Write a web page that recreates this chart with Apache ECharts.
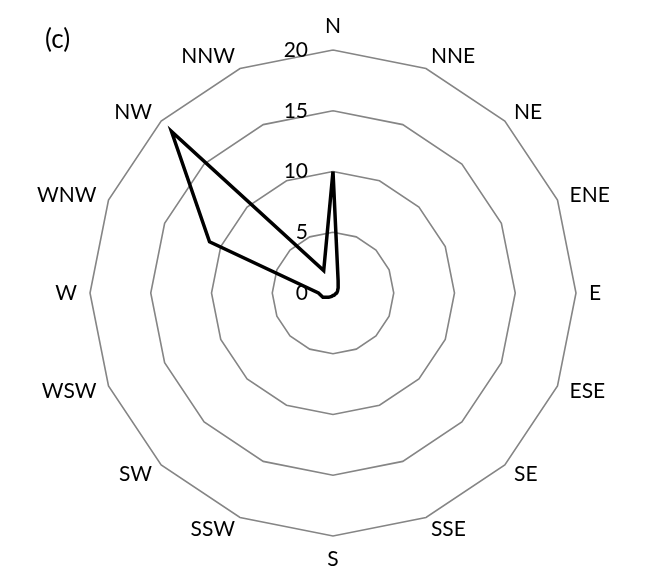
<!DOCTYPE html>
<html>
<head>
<meta charset="utf-8">
<script src="https://cdn.jsdelivr.net/npm/echarts@6/dist/echarts.min.js"></script>
<style>
  html, body { margin: 0; padding: 0; background: #fff; }
  #chart { width: 669px; height: 584px; }
</style>
</head>
<body>
<div id="chart"></div>
<script>
// wind directions, clockwise from north
var directions = ["N", "NNE", "NE", "ENE", "E", "ESE", "SE", "SSE",
                  "S", "SSW", "SW", "WSW", "W", "WNW", "NW", "NNW"];
// frequency per direction
var frequency = [10, 1.1, 0.6, 0.4, 0.3, 0.2, 0.2, 0.2,
                 0.2, 0.3, 0.5, 0.9, 1.2, 11, 18.8, 2];
var axisMax = 20;
var panelLabel = "(c)";

var fontName = "Lato, 'Open Sans', sans-serif";

var chart = echarts.init(document.getElementById("chart"));

// radar runs counter-clockwise, so feed it N, NNW, NW, ... to get a compass
var order = [0];
for (var k = directions.length - 1; k > 0; k--) order.push(k);

var indicators = order.map(function (i, j) {
  var ind = { name: directions[i], max: axisMax, min: 0 };
  if (j === 0) {
    // only the north axis carries the scale labels
    ind.axisLabel = { show: true };
  }
  return ind;
});
var values = order.map(function (i) { return frequency[i]; });

var option = {
  animation: false,
  title: {
    text: panelLabel,
    left: 40,
    top: 22,
    textStyle: { fontFamily: fontName, fontWeight: "normal", fontSize: 26, color: "#000" }
  },
  radar: {
    center: [333, 293],
    radius: 243,
    startAngle: 90,
    shape: "polygon",
    splitNumber: 4,
    indicator: indicators,
    axisName: {
      color: "#000",
      fontFamily: fontName,
      fontSize: 21
    },
    nameGap: 13,
    axisLine: { show: false },
    axisTick: { show: false },
    axisLabel: {
      show: false,
      color: "#000",
      fontFamily: fontName,
      fontSize: 21,
      margin: 25
    },
    splitLine: { lineStyle: { color: "#858585", width: 1.6 } },
    splitArea: { show: false }
  },
  series: [
    {
      type: "radar",
      symbol: "none",
      lineStyle: { color: "#000", width: 3.5, join: "miter" },
      data: [{ value: values, name: "freq" }]
    }
  ]
};

chart.setOption(option);
</script>
</body>
</html>
